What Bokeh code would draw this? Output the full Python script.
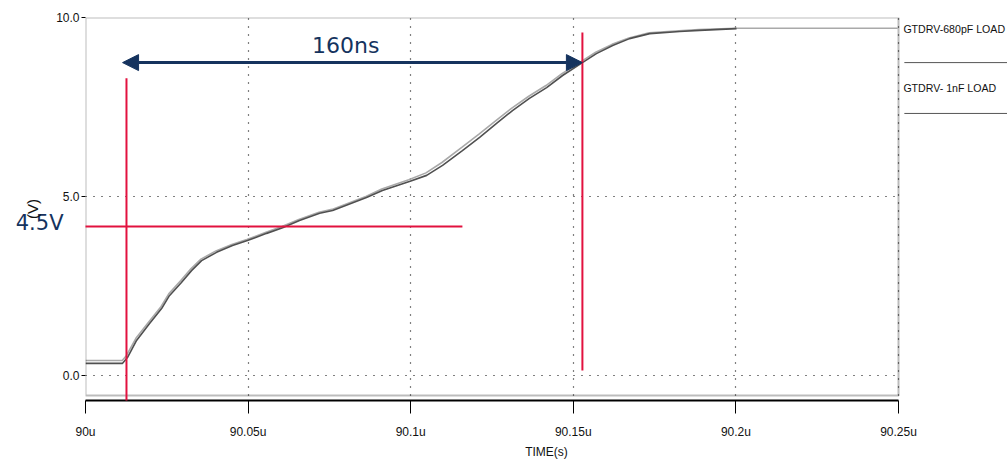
from bokeh.plotting import figure
from bokeh.models import (Range1d, FixedTicker, Arrow, NormalHead, Label,
                          BoxAnnotation, Grid, LinearAxis)
from bokeh.embed import file_html
from bokeh.resources import INLINE

# ---------------- data ----------------
x_ticks = [90.0, 90.05, 90.1, 90.15, 90.2, 90.25]
x_tick_labels = ["90u", "90.05u", "90.1u", "90.15u", "90.2u", "90.25u"]
y_ticks = [0.0, 5.0, 10.0]
y_tick_labels = ["0.0", "5.0", "10.0"]

series_names = ["GTDRV-680pF LOAD", "GTDRV- 1nF LOAD"]

# GTDRV with 680pF load (time in us, volts)
t_680p = [90.0, 90.0113, 90.0126, 90.0155, 90.0195, 90.0232, 90.0256, 90.0293,
          90.0324, 90.0355, 90.0401, 90.0450, 90.0496, 90.0555, 90.0604,
          90.0656, 90.0718, 90.0758, 90.0862, 90.0911, 90.0994, 90.1047,
          90.1096, 90.1157, 90.1210, 90.1262, 90.1311, 90.1363, 90.1416,
          90.1465, 90.1526, 90.1569, 90.1619, 90.1671, 90.1733, 90.1825,
          90.1886, 90.2000, 90.2497]
v_680p = [0.42, 0.42, 0.56, 1.04, 1.50, 1.92, 2.28, 2.65,
          2.98, 3.25, 3.48, 3.66, 3.80, 4.00, 4.16,
          4.36, 4.56, 4.64, 5.00, 5.21, 5.47, 5.66,
          5.95, 6.37, 6.74, 7.12, 7.47, 7.80, 8.10,
          8.43, 8.78, 9.03, 9.25, 9.43, 9.57, 9.63,
          9.66, 9.70, 9.70]

# GTDRV with 1nF load
t_1n = [90.0, 90.0114, 90.0129, 90.0157, 90.0197, 90.0234, 90.0258, 90.0295,
        90.0326, 90.0357, 90.0403, 90.0452, 90.0498, 90.0557, 90.0606,
        90.0658, 90.0720, 90.0760, 90.0864, 90.0913, 90.0996, 90.1049,
        90.1098, 90.1159, 90.1212, 90.1264, 90.1313, 90.1365, 90.1418,
        90.1467, 90.1528, 90.1571, 90.1621, 90.1673, 90.1735, 90.1827,
        90.1888, 90.2002]
v_1n = [0.34, 0.34, 0.50, 0.98, 1.45, 1.87, 2.23, 2.60,
        2.93, 3.21, 3.44, 3.63, 3.77, 3.97, 4.13,
        4.33, 4.53, 4.61, 4.97, 5.17, 5.42, 5.59,
        5.87, 6.28, 6.65, 7.04, 7.40, 7.74, 8.04,
        8.38, 8.74, 8.99, 9.22, 9.41, 9.55, 9.61,
        9.64, 9.69]

# annotation markers (us, V)
marker_t_start = 90.0126
marker_t_end = 90.1528
marker_level_v = 4.16
arrow_t_start = 90.0114
arrow_t_end = 90.1528
arrow_v = 8.74
span_label = "160ns"
level_label = "4.5V"
level_label_v = 4.27

# ---------------- styling ----------------
SANS = "'Liberation Sans', Arial, sans-serif"
NAVY = "#15335E"
RED = "#E2123F"

PX_PER_US = 3252.0
PX_PER_V = 35.8
FRAME_W = 922
FRAME_H = 383

x_end = 90.0 + FRAME_W / PX_PER_US
y_start = 10.0 - FRAME_H / PX_PER_V
box_bottom = -0.56

p = figure(frame_width=FRAME_W, frame_height=FRAME_H,
           min_border_left=85, min_border_right=0, min_border_top=17,
           min_border_bottom=64,
           x_range=Range1d(90.0, x_end), y_range=Range1d(y_start, 10.0),
           output_backend="svg", toolbar_location=None,
           outline_line_color=None, background_fill_color="white")

# x axis
xa = p.xaxis[0]
xa.ticker = FixedTicker(ticks=x_ticks)
xa.major_label_overrides = dict(zip(x_ticks, x_tick_labels))
xa.bounds = (x_ticks[0], x_ticks[-1])
xa.axis_line_color = "#000000"
xa.axis_line_width = 2
xa.major_tick_out = 13
xa.major_tick_in = 0
xa.major_tick_line_color = "#000000"
xa.major_tick_line_width = 1
xa.minor_tick_line_color = None
xa.major_label_text_font = SANS
xa.major_label_text_font_size = "12px"
xa.major_label_text_color = "#111111"
xa.major_label_standoff = 11
xa.axis_label = "TIME(s)"
xa.axis_label_text_font = SANS
xa.axis_label_text_font_size = "12px"
xa.axis_label_text_font_style = "normal"
xa.axis_label_text_color = "#111111"
xa.axis_label_standoff = 3

# y axis
ya = p.yaxis[0]
ya.ticker = FixedTicker(ticks=y_ticks)
ya.major_label_overrides = dict(zip(y_ticks, y_tick_labels))
ya.axis_line_color = None
ya.major_tick_out = 4
ya.major_tick_in = 0
ya.major_tick_line_color = "#000000"
ya.minor_tick_line_color = None
ya.major_label_text_font = SANS
ya.major_label_text_font_size = "12px"
ya.major_label_text_color = "#111111"
ya.major_label_standoff = 2

# outer left axis carrying the "4.5V" annotation text and the "(V)" title
ya2 = LinearAxis(ticker=FixedTicker(ticks=[level_label_v]),
                 major_label_overrides={level_label_v: level_label})
ya2.axis_line_color = None
ya2.major_tick_line_color = None
ya2.minor_tick_line_color = None
ya2.major_tick_out = 0
ya2.major_tick_in = 0
ya2.major_label_text_font = "DejaVu Sans"
ya2.major_label_text_font_size = "21px"
ya2.major_label_text_color = NAVY
ya2.major_label_standoff = -10
ya2.axis_label = "(V)"
ya2.axis_label_text_font = SANS
ya2.axis_label_text_font_size = "15px"
ya2.axis_label_text_font_style = "normal"
ya2.axis_label_text_color = "#111111"
ya2.axis_label_standoff = -28
p.add_layout(ya2, "left")

# grids: dotted
for g in (p.xgrid[0], p.ygrid[0]):
    g.grid_line_color = "#000000"
    g.grid_line_dash = "1 7"
    g.grid_line_width = 1.2
if "cross_bounds" in Grid.properties():
    p.ygrid[0].cross_bounds = (x_ticks[0], x_ticks[-1])
    p.xgrid[0].cross_bounds = (box_bottom, 10.0)

# traces
p.line(t_680p, v_680p, line_color="#a9a9a9", line_width=1.6)
p.line(t_1n, v_1n, line_color="#505050", line_width=1.6)

# white cover right of the plot box (legend area)
p.add_layout(BoxAnnotation(left=90.2506, fill_color="white", fill_alpha=1.0,
                           line_color=None))
# plot box
p.add_layout(BoxAnnotation(left=x_ticks[0], right=x_ticks[-1], bottom=box_bottom,
                           top=10.0, fill_color=None, fill_alpha=0,
                           line_color="#222222", line_width=2))

# legend (text with sample line underneath)
leg_x = 90.2515
leg_y_text = [9.69, 8.02]
leg_y_line = [8.74, 7.32]
for name, yt in zip(series_names, leg_y_text):
    p.add_layout(Label(x=leg_x, y=yt, text=name, text_font=SANS,
                       text_font_size="10.6px", text_color="#111111",
                       text_baseline="middle", text_align="left", level="overlay"))
r = p.segment(x0=[90.2518, 90.2518], x1=[x_end, x_end], y0=leg_y_line, y1=leg_y_line,
              line_color="#555555", line_width=1)
r.level = "overlay"

# red marker lines
p.add_layout(Arrow(x_start=marker_t_start, y_start=8.30, x_end=marker_t_start,
                   y_end=-0.87, end=None, line_color=RED, line_width=2))
p.add_layout(Arrow(x_start=marker_t_end, y_start=9.58, x_end=marker_t_end,
                   y_end=0.14, end=None, line_color=RED, line_width=2))
p.add_layout(Arrow(x_start=89.9972, y_start=marker_level_v, x_end=90.1159,
                   y_end=marker_level_v, end=None, line_color=RED, line_width=2))

# navy double-headed arrow
p.add_layout(Arrow(x_start=arrow_t_start, y_start=arrow_v, x_end=arrow_t_end,
                   y_end=arrow_v, line_color=NAVY, line_width=3,
                   start=NormalHead(size=16, fill_color=NAVY, line_color=NAVY),
                   end=NormalHead(size=16, fill_color=NAVY, line_color=NAVY)))

p.add_layout(Label(x=90.0800, y=9.22, text=span_label, text_font="DejaVu Sans",
                   text_font_size="22px", text_color=NAVY, text_align="center",
                   text_baseline="middle"))

open("out.html", "w").write(file_html(p, INLINE))
